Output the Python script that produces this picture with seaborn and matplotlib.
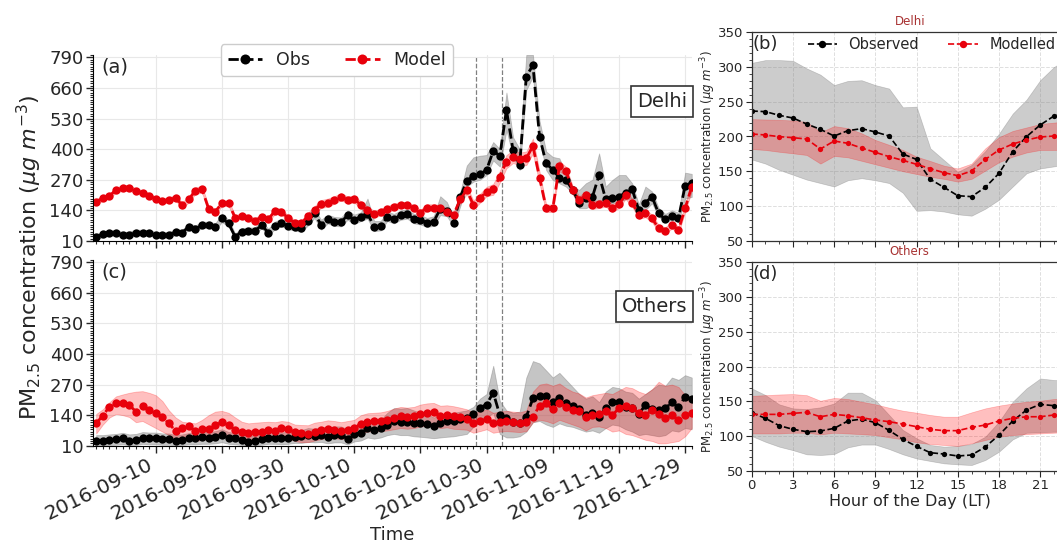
import numpy as np
import pandas as pd
import matplotlib
matplotlib.use("Agg")
import matplotlib.pyplot as plt
import matplotlib.dates as mdates
from matplotlib.ticker import MultipleLocator, FixedLocator
import seaborn as sns

# ---------------- data ----------------
dates = pd.date_range("2016-09-01", "2016-11-30", freq="D")
date_ticks = ["2016-09-10", "2016-09-20", "2016-09-30", "2016-10-10", "2016-10-20",
              "2016-10-30", "2016-11-09", "2016-11-19", "2016-11-29"]
event_lines = ["2016-10-28 08:30", "2016-11-01 09:30"]
ts_yticks = [10, 140, 270, 400, 530, 660, 790]

delhi_obs = [28, 38, 43, 45, 35, 35, 45, 45, 45, 35,
             35, 35, 47, 45, 71, 61, 78, 78, 71, 106,
             85, 28, 50, 52, 52, 78, 45, 74, 88, 74,
             71, 64, 95, 127, 78, 103, 92, 90, 120, 101,
             113, 126, 71, 74, 113, 103, 120, 125, 103, 99,
             88, 92, 146, 139, 88, 195, 265, 286, 293, 312,
             392, 372, 566, 396, 333, 708, 757, 453, 340, 312,
             279, 269, 227, 173, 191, 198, 290, 187, 194, 198,
             215, 229, 142, 173, 198, 127, 102, 116, 106, 244, 258]
delhi_obs_hi = [40, 50, 55, 57, 48, 50, 58, 58, 57, 48,
                47, 48, 60, 58, 85, 76, 92, 92, 85, 125,
                100, 42, 65, 67, 68, 95, 62, 92, 105, 92,
                88, 85, 115, 145, 100, 122, 112, 110, 140, 122,
                132, 190, 95, 95, 135, 125, 140, 145, 125, 120,
                108, 115, 200, 175, 110, 215, 330, 365, 372, 375,
                430, 400, 640, 450, 400, 800, 800, 520, 390, 367,
                361, 297, 240, 227, 255, 270, 382, 241, 269, 290,
                290, 255, 165, 241, 220, 150, 125, 140, 130, 300, 295]
delhi_obs_lo = [18, 26, 32, 33, 24, 24, 33, 34, 34, 25,
                24, 24, 36, 34, 58, 50, 65, 66, 58, 90,
                72, 18, 38, 40, 40, 64, 33, 60, 73, 60,
                55, 48, 76, 108, 58, 85, 74, 72, 100, 82,
                95, 105, 52, 55, 95, 85, 100, 105, 85, 80,
                70, 74, 120, 115, 72, 156, 241, 262, 270, 290,
                352, 326, 481, 368, 311, 651, 708, 439, 311, 269,
                255, 241, 212, 149, 149, 163, 184, 170, 170, 177,
                187, 191, 120, 142, 170, 113, 92, 99, 92, 190, 197]
delhi_mod = [177, 191, 201, 227, 234, 236, 222, 215, 203, 187,
             181, 184, 194, 161, 187, 224, 229, 146, 135, 170,
             170, 109, 116, 109, 95, 113, 102, 137, 135, 106,
             88, 85, 116, 142, 167, 173, 184, 198, 184, 188,
             163, 142, 125, 132, 144, 156, 163, 163, 149, 130,
             152, 152, 149, 135, 120, 187, 227, 163, 191, 220,
             229, 283, 347, 368, 358, 361, 413, 279, 149, 149,
             328, 307, 227, 184, 205, 163, 166, 173, 149, 166,
             205, 173, 120, 127, 106, 64, 54, 78, 57, 149, 241]
delhi_mod_hi = [188, 202, 212, 238, 246, 248, 233, 226, 214, 198,
                192, 195, 206, 174, 200, 238, 243, 158, 147, 182,
                182, 120, 128, 121, 107, 125, 114, 150, 148, 118,
                100, 97, 130, 158, 184, 190, 200, 213, 199, 203,
                178, 156, 139, 146, 158, 169, 176, 176, 162, 143,
                166, 166, 163, 149, 133, 205, 245, 182, 210, 240,
                252, 308, 375, 395, 385, 390, 445, 305, 165, 165,
                350, 325, 245, 200, 222, 180, 182, 190, 165, 182,
                222, 190, 136, 143, 122, 78, 68, 93, 71, 165, 260]
delhi_mod_lo = [166, 180, 190, 216, 222, 224, 211, 204, 192, 176,
                170, 173, 182, 148, 174, 210, 215, 134, 123, 158,
                158, 98, 104, 97, 83, 101, 90, 124, 122, 94,
                76, 73, 102, 126, 150, 156, 168, 183, 169, 173,
                148, 128, 111, 118, 130, 143, 150, 150, 136, 117,
                138, 138, 135, 121, 107, 169, 209, 144, 172, 200,
                206, 258, 319, 341, 331, 332, 381, 253, 133, 133,
                306, 289, 209, 168, 188, 146, 150, 156, 133, 150,
                188, 156, 104, 111, 90, 50, 40, 63, 43, 133, 222]

others_obs = [31, 30, 34, 37, 41, 31, 34, 44, 41, 41,
              38, 38, 30, 34, 41, 41, 45, 44, 48, 55,
              44, 41, 34, 27, 30, 37, 44, 44, 41, 44,
              48, 50, 54, 52, 56, 45, 54, 54, 40, 59,
              66, 84, 77, 84, 96, 115, 110, 112, 106, 105,
              101, 95, 106, 114, 116, 122, 126, 144, 172, 185,
              236, 140, 126, 112, 105, 133, 211, 223, 223, 197,
              211, 190, 180, 166, 140, 148, 133, 169, 194, 194,
              176, 169, 145, 183, 165, 162, 169, 194, 173, 218, 209]
others_obs_hi = [55, 55, 58, 60, 65, 58, 60, 68, 66, 66,
                 62, 62, 55, 58, 64, 65, 68, 68, 72, 80,
                 68, 65, 58, 52, 55, 62, 68, 68, 66, 70,
                 78, 76, 85, 82, 90, 88, 92, 92, 80, 90,
                 95, 115, 110, 120, 150, 170, 168, 170, 160, 150,
                 145, 130, 140, 150, 150, 155, 160, 175, 210, 230,
                 350, 200, 160, 150, 155, 300, 370, 360, 330, 300,
                 320, 290, 260, 230, 210, 220, 195, 240, 260, 255,
                 240, 235, 210, 230, 250, 270, 265, 300, 290, 310, 300]
others_obs_lo = [12, 12, 13, 14, 16, 12, 13, 18, 16, 16,
                 14, 14, 12, 13, 16, 16, 18, 18, 20, 25,
                 18, 16, 13, 11, 12, 14, 18, 18, 16, 18,
                 22, 22, 26, 24, 26, 20, 24, 24, 15, 28,
                 32, 45, 40, 45, 55, 60, 55, 55, 50, 48,
                 45, 42, 45, 48, 50, 55, 60, 90, 110, 130,
                 150, 60, 45, 45, 50, 70, 110, 115, 100, 90,
                 105, 95, 90, 80, 70, 75, 65, 85, 100, 95,
                 80, 70, 55, 60, 55, 50, 55, 75, 70, 85, 80]
others_mod = [105, 138, 176, 190, 190, 183, 155, 180, 162, 148,
              133, 105, 72, 84, 94, 72, 81, 81, 98, 109,
              98, 77, 67, 62, 70, 70, 77, 72, 84, 79,
              68, 62, 60, 70, 75, 82, 77, 72, 77, 84,
              104, 110, 113, 113, 119, 128, 135, 131, 135, 143,
              148, 152, 136, 140, 135, 130, 124, 108, 115, 123,
              105, 112, 115, 112, 108, 112, 133, 180, 190, 165,
              190, 176, 162, 157, 133, 140, 143, 159, 140, 169,
              179, 172, 148, 140, 162, 143, 126, 140, 119, 140, 148]
others_mod_hi = [145, 165, 195, 220, 228, 235, 240, 242, 235, 225,
                 200, 160, 130, 112, 108, 105, 120, 140, 155, 158,
                 150, 130, 112, 105, 108, 110, 112, 110, 115, 112,
                 100, 98, 97, 108, 112, 118, 115, 110, 115, 120,
                 140, 148, 150, 152, 158, 168, 175, 172, 175, 185,
                 190, 192, 180, 182, 178, 172, 165, 150, 155, 165,
                 150, 155, 158, 155, 152, 160, 240, 270, 275, 265,
                 275, 255, 240, 232, 215, 225, 230, 235, 230, 245,
                 260, 255, 240, 230, 250, 282, 265, 270, 260, 225, 205]
others_mod_lo = [62, 100, 130, 145, 140, 132, 110, 115, 100, 85,
                 70, 55, 40, 48, 50, 30, 35, 40, 55, 60,
                 50, 40, 30, 28, 35, 35, 40, 38, 45, 42,
                 30, 25, 25, 32, 38, 45, 42, 38, 42, 45,
                 65, 70, 72, 72, 75, 80, 85, 82, 85, 92,
                 95, 98, 85, 88, 82, 80, 78, 65, 72, 80,
                 65, 70, 72, 70, 68, 72, 110, 120, 115, 105,
                 120, 110, 100, 90, 75, 90, 92, 85, 70, 75,
                 60, 55, 45, 35, 30, 20, 20, 25, 30, 50, 85]

hours = list(range(24))
delhi_obs_hr = [236.7, 235.8, 230.5, 226.6, 218.0, 210.3, 200.7, 208.4, 211.3, 206.5, 200.7, 174.8,
                167.0, 138.3, 126.8, 114.8, 113.4, 126.8, 147.0, 178.2, 199.8, 216.6, 229.5, 236.0]
delhi_obs_hr_hi = [306, 310, 310, 309, 298, 289, 274, 280, 281, 274, 269, 242,
                   243, 183, 166, 149, 159, 179, 204, 233, 253, 281, 300, 312]
delhi_obs_hr_lo = [167, 161, 152, 145, 138, 133, 128, 137, 140, 137, 133, 119,
                   93, 94, 92, 88, 86, 96, 109, 128, 147, 154, 157, 160]
delhi_mod_hr = [203.6, 202.2, 199.8, 198.3, 196.4, 182.0, 193.5, 190.2, 183.4, 177.2, 171.0, 165.7,
                160.0, 153.7, 147.9, 143.6, 150.3, 167.0, 180.6, 189.2, 195.0, 199.3, 200.7, 201.0]
delhi_mod_hr_hi = [225, 224.5, 224, 223, 221, 206, 215, 212, 204.6, 195, 188, 180.6,
                   171, 164.7, 158, 154, 161, 183, 199, 208, 213, 218, 220, 222]
delhi_mod_hr_lo = [182, 180.6, 178, 175.8, 173.4, 161, 172, 170, 165, 160, 155, 150,
                   146, 142, 139, 135, 139, 151, 163, 171, 177, 180.6, 180.6, 181]
others_obs_hr = [133.8, 125.7, 115.2, 110.0, 106.5, 107.5, 111.3, 121.9, 124.7, 119.5, 108.4, 95.5,
                 85.4, 76.3, 74.4, 71.6, 73.0, 84.5, 101.7, 121.9, 137.7, 145.8, 143.9, 140.0]
others_obs_hr_hi = [168.8, 159.2, 145.8, 140, 139, 141.5, 147, 162.6, 162.6, 152, 130.5, 109,
                    97, 87.4, 85, 86, 88.8, 99.3, 121, 149.6, 168.8, 183, 180.8, 180]
others_obs_hr_lo = [100.3, 92, 85, 80, 74, 73, 74.4, 84, 88, 88, 81.6, 74,
                    68, 64.4, 61, 59.6, 58.6, 65.8, 77.8, 95.5, 105, 105.6, 106.5, 107]
others_mod_hr = [131.4, 131.4, 131.4, 132.9, 134.3, 128.0, 131.4, 129.5, 126.6, 123.3, 120.9, 117.5,
                 113.7, 109.9, 108.0, 108.0, 112.7, 116.1, 121.9, 125.7, 128.0, 128.0, 130.5, 131.0]
others_mod_hr_hi = [158, 159, 160, 160.6, 159, 151, 155, 153.5, 149.6, 145.8, 141, 136.7,
                    133.8, 130.5, 128, 128, 134.3, 140, 144, 147, 149.6, 151, 153.5, 154]
others_mod_hr_lo = [104, 104, 104, 105, 105, 102.7, 105, 104, 103, 101.7, 98.4, 95.5,
                    91.2, 88.8, 87.4, 86, 89.8, 94.5, 99.3, 101.7, 103, 104, 105, 106]

# ---------------- style ----------------
sns.set_style("ticks")
plt.rcParams["font.family"] = ["DejaVu Sans"]
plt.rcParams["mathtext.fontset"] = "dejavusans"

OBS_C = "black"
MOD_C = "#e8000b"

W, H = 1057, 545
fig = plt.figure(figsize=(W / 100, H / 100), dpi=100, facecolor="white")


def px_axes(l, t, r, b):
    return fig.add_axes([l / W, 1 - b / H, (r - l) / W, (b - t) / H])


ax_a = px_axes(93.3, 54.9, 692, 241)
ax_c = px_axes(93.3, 260, 692, 445.7)
ax_b = px_axes(751.7, 32.3, 1067.7, 240.7)
ax_d = px_axes(751.7, 262.3, 1067.7, 471)

ylab = r"PM$_{2.5}$ concentration ($\mu g\ m^{-3}$)"


def ts_panel(ax, obs, obs_lo, obs_hi, mod, mod_lo, mod_hi, tag, name, show_dates):
    ax.fill_between(dates, obs_lo, obs_hi, color="gray", alpha=0.45, lw=0.6)
    ax.fill_between(dates, mod_lo, mod_hi, color="red", alpha=0.25, lw=0.6)
    sns.lineplot(x=dates, y=obs, ax=ax, color=OBS_C, marker="o", linestyle="--",
                 linewidth=2, markersize=6, markeredgewidth=0, markeredgecolor=OBS_C,
                 label="Obs", errorbar=None)
    sns.lineplot(x=dates, y=mod, ax=ax, color=MOD_C, marker="o", linestyle="--",
                 linewidth=2, markersize=6, markeredgewidth=0, markeredgecolor=MOD_C,
                 label="Model", errorbar=None)
    ax.set_xlim(pd.Timestamp("2016-08-31 13:30"), pd.Timestamp("2016-11-30 01:00"))
    ax.set_ylim(10, 800)
    ax.set_yticks(ts_yticks)
    ax.set_yticklabels([str(v) for v in ts_yticks])
    ax.yaxis.set_minor_locator(MultipleLocator(10))
    tick_pos = mdates.date2num(pd.to_datetime(date_ticks))
    ax.xaxis.set_major_locator(FixedLocator(tick_pos))
    ax.xaxis.set_minor_locator(mdates.DayLocator())
    if show_dates:
        ax.set_xticklabels(date_ticks, rotation=26, ha="right", fontsize=14.5)
        ax.set_xlabel("Time", fontsize=13, va="top")
        ax.xaxis.set_label_coords(0.5, -0.43)
    else:
        ax.tick_params(labelbottom=False)
        ax.set_xlabel("")
    ax.set_ylabel("")
    ax.tick_params(axis="y", labelsize=13, length=5, width=1, pad=2)
    ax.tick_params(axis="x", length=5, width=1, pad=2)
    ax.tick_params(which="minor", length=2.5, width=0.8)
    ax.grid(True, which="major", color="#e8e8e8", lw=0.8)
    ax.set_axisbelow(True)
    for s in ["top", "right"]:
        ax.spines[s].set_visible(False)
    for s in ["left", "bottom"]:
        ax.spines[s].set_color("black")
    ax.text(0.013, 0.985, tag, transform=ax.transAxes, ha="left", va="top", fontsize=14)
    ax.text(0.992, 0.75, name, transform=ax.transAxes, ha="right", va="center",
            fontsize=14, bbox=dict(boxstyle="square,pad=0.3", fc="white", ec="#333333", lw=1.2))
    if ax.get_legend() is not None:
        ax.get_legend().remove()


ts_panel(ax_a, delhi_obs, delhi_obs_lo, delhi_obs_hi, delhi_mod, delhi_mod_lo, delhi_mod_hi,
         "(a)", "Delhi", False)
ts_panel(ax_c, others_obs, others_obs_lo, others_obs_hi, others_mod, others_mod_lo, others_mod_hi,
         "(c)", "Others", True)

ax_a.legend(loc="upper center", bbox_to_anchor=(0.407, 1.105), ncol=2, fontsize=12.5,
            handlelength=2.0, columnspacing=2.0, frameon=True, framealpha=1,
            edgecolor="#cccccc", fancybox=True, markerscale=1.2)

for ln in event_lines:
    t = pd.Timestamp(ln)
    ax_a.axvline(t, ymin=-0.104, ymax=1, color="gray", ls="--", lw=0.9, clip_on=False, zorder=0.5)
    ax_c.axvline(t, color="gray", ls="--", lw=0.9, zorder=0.5)

fig.text(0.028, 0.528, ylab, rotation=90, ha="center", va="center", fontsize=16)


def diurnal(ax, obs, obs_lo, obs_hi, mod, mod_lo, mod_hi, tag, title, bottom):
    ax.fill_between(hours, obs_lo, obs_hi, color="gray", alpha=0.4, lw=0.5)
    ax.fill_between(hours, mod_lo, mod_hi, color="red", alpha=0.25, lw=0.5)
    sns.lineplot(x=hours, y=obs, ax=ax, color=OBS_C, marker="o", linestyle="--",
                 linewidth=1.2, markersize=3.8, markeredgewidth=0, markeredgecolor=OBS_C,
                 label="Observed", errorbar=None)
    sns.lineplot(x=hours, y=mod, ax=ax, color=MOD_C, marker="o", linestyle="--",
                 linewidth=1.2, markersize=3.8, markeredgewidth=0, markeredgecolor=MOD_C,
                 label="Modelled", errorbar=None)
    ax.set_xlim(0, 23)
    ax.set_ylim(50, 350)
    ax.set_xticks(range(0, 24, 3))
    ax.xaxis.set_minor_locator(MultipleLocator(1))
    ax.yaxis.set_major_locator(MultipleLocator(50))
    ax.yaxis.set_minor_locator(MultipleLocator(10))
    ax.tick_params(labelsize=9.5, length=4, width=0.8, pad=2)
    ax.tick_params(which="minor", length=2, width=0.6)
    ax.grid(True, which="major", ls="--", color="#dedede", lw=0.7)
    ax.set_axisbelow(True)
    for s in ax.spines.values():
        s.set_color("#333333")
        s.set_linewidth(0.9)
    ax.set_ylabel(ylab, fontsize=8.5)
    ax.yaxis.set_label_coords(-0.108, 0.5)
    ax.set_title(title, color="#a83232", fontsize=8.5, pad=5)
    if bottom:
        ax.set_xlabel("Hour of the Day (LT)", fontsize=11.5, labelpad=1)
    else:
        ax.set_xlabel("")
        ax.tick_params(labelbottom=False)
    ax.text(0.004, 0.985, tag, transform=ax.transAxes, ha="left", va="top", fontsize=13)
    if ax.get_legend() is not None:
        ax.get_legend().remove()


diurnal(ax_b, delhi_obs_hr, delhi_obs_hr_lo, delhi_obs_hr_hi, delhi_mod_hr, delhi_mod_hr_lo,
        delhi_mod_hr_hi, "(b)", "Delhi", False)
diurnal(ax_d, others_obs_hr, others_obs_hr_lo, others_obs_hr_hi, others_mod_hr, others_mod_hr_lo,
        others_mod_hr_hi, "(d)", "Others", True)

ax_b.legend(loc="center left", bbox_to_anchor=(0.145, 0.94), ncol=2, fontsize=10.5,
            handlelength=2.0, columnspacing=2.0, handletextpad=0.8, frameon=False,
            borderpad=0.2, markerscale=1.4)

fig.savefig("out.png", dpi=100, facecolor="white")
